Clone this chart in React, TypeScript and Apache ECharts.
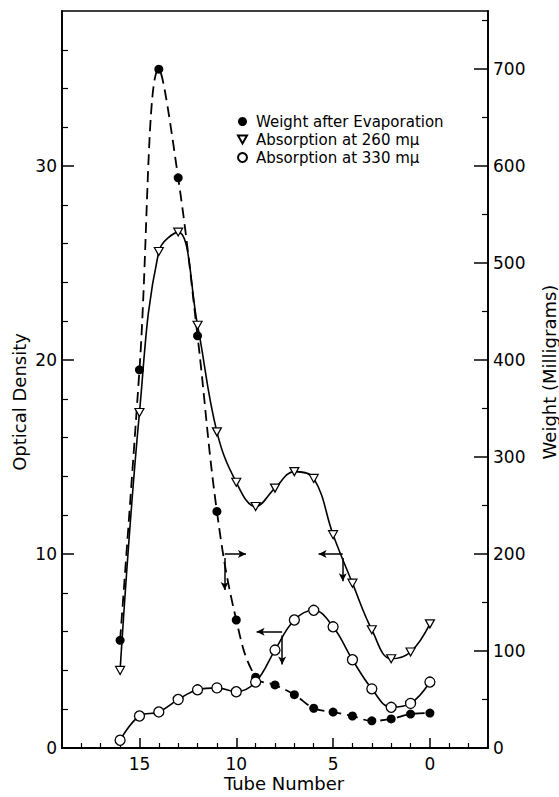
import React, { useEffect, useRef } from "react";
import * as echarts from "echarts";

const tubes = [16, 15, 14, 13, 12, 11, 10, 9, 8, 7, 6, 5, 4, 3, 2, 1, 0];
const weightMg = [111, 390, 700, 588, 425, 244, 132, 73, 65, 55, 41, 37, 33, 28, 30, 35, 36];
const abs260 = [4.0, 17.3, 25.6, 26.6, 21.8, 16.3, 13.7, 12.45, 13.4, 14.25, 13.9, 11.0, 8.5, 6.1, 4.6, 4.95, 6.4];
const abs330 = [0.4, 1.65, 1.86, 2.5, 3.0, 3.1, 2.9, 3.4, 5.05, 6.6, 7.1, 6.25, 4.55, 3.05, 2.1, 2.3, 3.4];

const xMajor = [0, 5, 10, 15];
const xMinor = [-2, -1, 1, 2, 3, 4, 6, 7, 8, 9, 11, 12, 13, 14, 16, 17, 18];
const odMajor = [0, 10, 20, 30];
const odMinor = [2, 4, 6, 8, 12, 14, 16, 18, 22, 24, 26, 28, 32, 34, 36];
const mgMajor = [0, 100, 200, 300, 400, 500, 600, 700];
const mgMinor = [50, 150, 250, 350, 450, 550, 650, 750];

// annotation arrows (data units): [from, to]
const weightArrows = [
  [[10.6, 200], [9.5, 200]],
  [[10.6, 196], [10.6, 163]],
];
const a330Arrows = [
  [[7.63, 6.0], [8.95, 6.0]],
  [[7.63, 5.8], [7.63, 4.3]],
];
const a260Arrows = [
  [[4.5, 10.0], [5.75, 10.0]],
  [[4.5, 9.8], [4.5, 8.6]],
];

const FONT = "DejaVu Sans";
const tri = "path://M0,0L10,0L5,9Z";

function arrows(list: number[][][]) {
  return {
    silent: true,
    symbol: ["none", "arrow"],
    symbolSize: [6, 8],
    label: { show: false },
    lineStyle: { color: "#000", width: 1.5, type: "solid" },
    emphasis: { disabled: true },
    data: list.map((p) => [{ coord: p[0] }, { coord: p[1] }]),
  };
}

export default function App() {
  const ref = useRef<HTMLDivElement>(null);
  useEffect(() => {
    document.body.style.margin = "0";
    const chart = echarts.init(ref.current!, null, { renderer: "svg" });
    const axisBase = {
      type: "value",
      splitLine: { show: false },
    };
    const line = (show: boolean) => ({ show, onZero: false, lineStyle: { color: "#000", width: 1.8 } });
    const tickLabel = { color: "#000", fontSize: 17, fontFamily: FONT };
    const title = { fontSize: 18, fontFamily: FONT, fill: "#000", align: "center", verticalAlign: "middle" };
    chart.setOption({
      animation: false,
      backgroundColor: "#fff",
      grid: {
        left: 62,
        right: 71,
        top: 11,
        bottom: 49,
        show: true,
        borderColor: "#000",
        borderWidth: 1.5,
        backgroundColor: "transparent",
      },
      legend: {
        orient: "vertical",
        left: 232,
        top: 109,
        itemWidth: 9,
        itemHeight: 9,
        itemGap: 3,
        selectedMode: false,
        textStyle: { color: "#000", fontSize: 15, fontFamily: FONT, lineHeight: 14, padding: [0, 0, 0, 4] },
        data: [
          { name: "Weight after Evaporation", icon: "circle" },
          { name: "Absorption at 260 mμ", icon: tri },
          { name: "Absorption at 330 mμ", icon: "circle" },
        ],
      },
      xAxis: [
        {
          ...axisBase,
          min: -3,
          max: 19,
          inverse: true,
          position: "bottom",
          axisLine: line(true),
          axisTick: { show: true, inside: true, length: 10, customValues: xMajor, lineStyle: { color: "#000", width: 1.5 } },
          axisLabel: { ...tickLabel, margin: 7, customValues: xMajor },
        },
        {
          ...axisBase,
          min: -3,
          max: 19,
          inverse: true,
          position: "bottom",
          axisLine: line(false),
          axisTick: { show: true, inside: true, length: 5, customValues: xMinor, lineStyle: { color: "#000", width: 1.2 } },
          axisLabel: { show: false },
        },
      ],
      yAxis: [
        {
          ...axisBase,
          min: 0,
          max: 38,
          position: "left",
          axisLine: line(true),
          axisTick: { show: true, inside: true, length: 12, customValues: odMajor, lineStyle: { color: "#000", width: 1.5 } },
          axisLabel: { ...tickLabel, margin: 5, customValues: odMajor },
        },
        {
          ...axisBase,
          min: 0,
          max: 760,
          position: "right",
          axisLine: line(true),
          axisTick: { show: true, inside: true, length: 14, customValues: mgMajor, lineStyle: { color: "#000", width: 1.5 } },
          axisLabel: { ...tickLabel, margin: 5, customValues: mgMajor },
        },
        {
          ...axisBase,
          min: 0,
          max: 38,
          position: "left",
          axisLine: line(false),
          axisTick: { show: true, inside: true, length: 6, customValues: odMinor, lineStyle: { color: "#000", width: 1.2 } },
          axisLabel: { show: false },
        },
        {
          ...axisBase,
          min: 0,
          max: 760,
          position: "right",
          axisLine: line(false),
          axisTick: { show: true, inside: true, length: 6, customValues: mgMinor, lineStyle: { color: "#000", width: 1.2 } },
          axisLabel: { show: false },
        },
      ],
      series: [
        {
          name: "Weight after Evaporation",
          type: "line",
          xAxisIndex: 0,
          yAxisIndex: 1,
          smooth: 0.4,
          symbol: "circle",
          symbolSize: 9,
          data: tubes.map((t, i) => [t, weightMg[i]]),
          lineStyle: { color: "#000", width: 1.8, type: [11, 6] },
          itemStyle: { color: "#000" },
          markLine: arrows(weightArrows),
          z: 3,
        },
        {
          name: "Absorption at 260 mμ",
          type: "line",
          xAxisIndex: 0,
          yAxisIndex: 0,
          smooth: 0.4,
          symbol: tri,
          symbolSize: [9, 8],
          data: tubes.map((t, i) => [t, abs260[i]]),
          lineStyle: { color: "#000", width: 1.6 },
          itemStyle: { color: "#fff", borderColor: "#000", borderWidth: 1.2 },
          markLine: arrows(a260Arrows),
          z: 4,
        },
        {
          name: "Absorption at 330 mμ",
          type: "line",
          xAxisIndex: 0,
          yAxisIndex: 0,
          smooth: 0.4,
          symbol: "circle",
          symbolSize: 10,
          data: tubes.map((t, i) => [t, abs330[i]]),
          lineStyle: { color: "#000", width: 1.6 },
          itemStyle: { color: "#fff", borderColor: "#000", borderWidth: 1.3 },
          markLine: arrows(a330Arrows),
          z: 4,
        },
      ],
      graphic: [
        { type: "text", x: 284, y: 783, style: { ...title, text: "Tube Number" } },
        { type: "text", x: 19, y: 402, rotation: Math.PI / 2, style: { ...title, text: "Optical Density" } },
        { type: "text", x: 549, y: 372, rotation: Math.PI / 2, style: { ...title, text: "Weight (Milligrams)" } },
      ],
    });
    return () => chart.dispose();
  }, []);
  return <div ref={ref} style={{ width: 559, height: 797 }} />;
}
